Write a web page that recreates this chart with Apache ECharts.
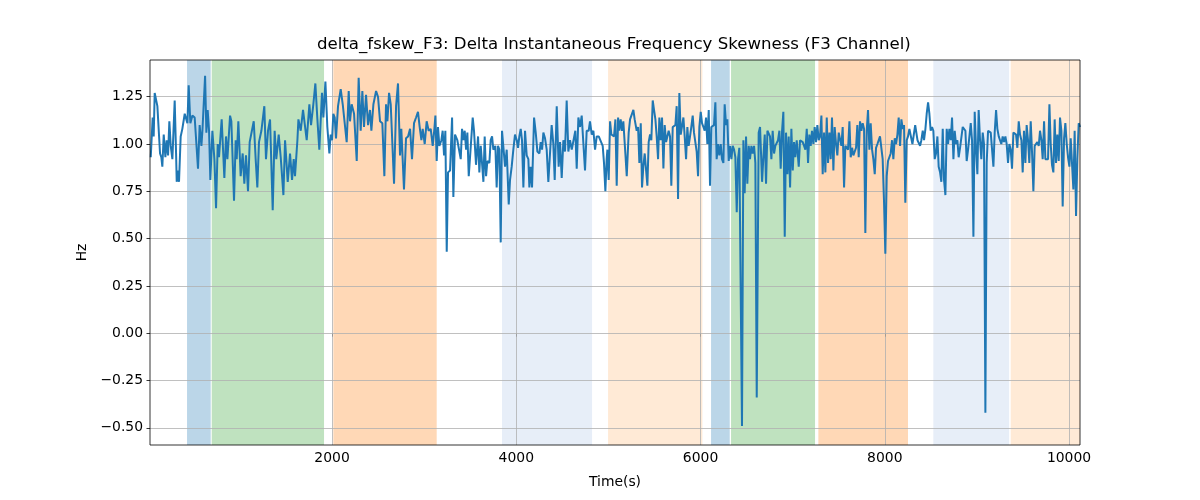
<!DOCTYPE html>
<html>
<head>
<meta charset="utf-8">
<script src="https://cdn.jsdelivr.net/npm/echarts@6/dist/echarts.min.js"></script>
<style>html,body{margin:0;padding:0;background:#fff}#c{width:1200px;height:500px}</style>
</head>
<body>
<div id="c"></div>
<script>
// ---- data ----
const times = [32,53,64,75,89,104,118,133,147,158,173,191,205,220,234,249,267,292,307,314,325,339,357,375,390,401,419,430,444,462,484,509,545,563,582,593,622,636,650,665,679,701,723,741,759,773,802,831,849,864,893,907,936,954,965,983,1008,1030,1048,1066,1088,1106,1124,1150,1171,1189,1207,1233,1265,1283,1305,1327,1356,1377,1395,1421,1443,1472,1490,1519,1544,1566,1584,1598,1624,1635,1660,1685,1725,
1754,1772,1797,1819,1841,1862,1891,1906,1928,1949,1971,1985,2000,2014,2029,2043,2065,2094,2116,2137,2159,2181,2195,2213,2239,2268,2289,2311,2329,2347,2369,2391,2412,2427,2449,2478,2499,2521,2546,2568,2586,2601,2619,2637,2651,2673,2695,2716,2738,2752,2781,2803,2825,2847,2868,2890,2912,2933,2951,2970,2984,3006,3027,3049,3071,3093,3111,3122,3136,3150,3165,3187,3201,3216,3230,3245,3259,3281,3303,3317,3335,3360,
3397,3411,3426,3440,3455,3469,3484,3505,3527,3541,3563,3585,3599,3614,3628,3643,3657,3672,3686,3708,3722,3737,3751,3773,3787,3802,3816,3831,3845,3863,3878,3896,3918,3932,3950,3968,3986,4005,4019,4033,4048,4062,4077,4095,4113,4131,4142,4156,4171,4193,4211,4229,4251,4265,4280,4294,4312,4330,4348,4366,4384,4402,4417,4439,4460,4475,4493,4511,4529,4547,4565,4583,4602,4620,4641,4656,4674,4692,4710,4728,4746,4764,4786,4800,4819,4837,4855,4873,4895,4916,4938,4952,4967,4981,
4989,5003,5018,5032,5047,5061,5076,5090,5105,5119,5133,5148,5162,5184,5199,5220,5235,5249,5271,5285,5307,5322,5336,5351,5365,5379,5394,5408,5423,5437,5452,5466,5481,5495,5510,5524,5539,5553,5568,5582,5597,5611,5626,5640,5654,5669,5683,5698,5712,5727,5741,5756,5770,5785,5799,5814,5828,5843,5857,5871,5886,5900,5915,5929,5944,5958,5973,5987,6002,6016,6031,6045,6060,6074,6089,6103,6117,6132,6146,6161,6175,6190,6204,6219,6233,6248,6262,6277,6291,6306,6320,6335,6349,6364,6378,6393,6407,6421,6436,6450,6465,6479,6494,6508,6523,6537,6552,6566,6581,6595,6610,6631,6646,
6668,6682,6697,6711,6726,6740,6754,6769,6783,6798,6812,6827,6841,6856,6870,6885,6899,6914,6928,6943,6957,6972,6986,7001,7015,7029,7044,7066,7080,7095,7109,7124,7138,7153,7167,7181,7196,7210,7225,7239,7254,7268,7283,7297,7312,7326,7341,7355,7370,7384,7399,7413,7427,7442,7456,7471,7485,7500,7514,7529,7543,7558,7572,7587,7601,7616,7630,7645,7659,7673,7688,7702,7717,7731,7746,7760,7775,7789,7804,7818,7833,7847,7862,7876,7891,7905,7920,7934,7948,7963,7977,7992,8006,8021,8035,8050,8064,8079,8093,8108,8122,8137,8151,8166,8180,8195,8209,8223,8238,8252,8267,
8300,8330,8355,
8383,8397,8412,8426,8441,8455,8470,8484,8498,8513,8527,8542,8556,8571,8585,8600,8614,8629,8643,8658,8672,8687,8701,8716,8730,8745,8759,8773,8788,8802,8817,8831,8846,8860,8875,8889,8904,8918,8933,8947,8962,8976,8991,9005,9019,9034,9048,9063,9077,9092,9106,9121,9135,9150,9164,9179,9193,9208,9222,9237,9251,9265,9280,9294,9309,9323,9338,9352,9367,9381,9396,9410,9425,9439,9454,9468,9483,9497,9511,9526,9540,9555,9569,9584,9598,9613,9627,9642,9656,9671,9685,9700,9714,9729,9743,9758,9772,9787,9801,9815,9830,9844,9859,9873,9888,9902,9917,9931,9946,9960,9975,9989,10004,10018,10032,10047,10061,10076,10090,10105,10119];

const values = [0.93,1.14,1.04,1.27,1.26,1.20,1.19,0.95,0.93,0.88,1.05,0.93,1.02,0.94,1.12,0.99,0.92,1.23,0.95,0.80,0.86,0.80,1.04,1.08,1.07,1.16,1.17,1.11,1.31,1.11,1.15,1.14,0.87,1.10,0.99,1.07,1.36,1.06,1.18,1.07,0.81,1.07,0.92,0.66,1.00,0.93,1.13,0.82,1.04,0.92,1.15,1.12,0.70,1.02,0.92,1.12,0.83,0.95,0.79,0.94,0.75,1.01,1.00,1.12,0.92,0.77,1.01,1.07,1.20,0.92,1.07,1.13,0.65,1.07,0.92,1.05,0.93,0.73,1.02,0.80,0.95,0.81,0.92,0.83,1.02,1.13,1.07,1.18,1.02,
1.21,1.10,1.21,1.32,1.13,0.97,1.27,1.14,1.33,1.09,0.95,1.05,1.02,1.16,1.14,1.03,1.20,1.29,1.21,1.22,1.01,1.28,1.12,1.21,1.16,0.91,1.35,1.07,1.28,1.09,1.26,1.10,1.18,1.07,1.21,1.28,1.25,1.12,1.11,0.83,1.21,1.12,1.27,1.21,1.20,0.79,1.20,1.32,0.94,1.08,0.76,1.03,1.04,1.08,0.92,1.11,1.14,1.17,1.09,1.02,1.08,1.00,1.12,1.07,1.08,0.99,1.08,1.15,0.91,1.09,0.99,1.02,1.07,0.94,1.07,0.43,0.85,0.86,1.14,0.72,1.05,1.02,
0.92,1.08,1.02,1.07,0.97,1.06,0.83,0.83,1.14,1.07,0.89,1.04,0.85,0.99,0.90,0.80,1.04,0.83,0.91,0.90,1.02,1.04,0.97,0.99,0.77,0.99,0.97,0.48,1.07,1.07,0.88,0.97,0.68,0.81,0.88,0.97,1.05,1.02,0.98,1.04,1.08,1.02,0.77,1.07,0.94,0.92,0.77,0.88,0.77,1.14,1.06,0.96,0.95,1.01,0.97,1.06,1.03,0.97,0.80,0.95,1.10,1.00,0.81,1.20,0.88,1.01,0.82,1.02,0.96,1.23,0.96,1.02,0.97,0.97,1.07,0.87,1.14,1.09,1.15,1.15,0.86,1.07,1.07,1.12,1.05,1.07,0.97,1.04,1.04,1.03,0.99,0.90,0.75,0.92,
0.97,0.81,1.12,1.05,1.05,1.04,1.13,0.78,1.14,1.07,1.13,1.07,1.12,0.95,0.83,1.06,1.13,1.12,1.18,1.13,1.07,1.09,0.90,1.11,0.77,0.88,0.95,0.96,0.78,1.01,1.05,1.02,1.23,1.18,1.13,1.04,0.92,1.14,1.02,1.14,0.87,1.10,1.01,1.04,1.07,1.04,0.78,1.09,1.10,1.10,1.20,0.71,1.27,1.05,1.04,1.14,1.04,0.92,1.09,0.99,1.04,1.09,1.15,1.06,1.07,0.96,0.83,1.09,1.17,1.11,1.09,1.07,1.14,1.00,1.18,0.78,1.09,1.08,1.10,1.22,0.92,1.00,0.94,1.00,0.92,0.90,1.21,1.10,1.13,0.91,0.99,0.92,0.99,0.97,0.93,0.64,0.92,0.98,0.99,-0.49,1.02,0.74,1.04,0.79,0.99,0.92,0.99,0.95,0.99,0.90,-0.34,1.06,1.09,
0.80,0.93,1.05,0.79,1.07,1.08,1.04,0.92,1.07,0.95,0.99,0.98,1.02,1.07,0.87,1.07,1.17,0.51,1.06,0.84,1.04,0.77,1.08,0.86,1.01,0.93,1.02,0.88,1.02,1.02,1.01,0.99,0.97,1.08,0.90,1.05,0.99,1.07,1.00,1.09,1.01,1.10,1.02,1.04,1.15,0.84,1.06,0.85,1.14,0.90,1.06,0.92,1.14,0.86,1.09,1.00,0.94,1.06,1.07,0.99,1.09,0.77,0.99,0.99,0.97,1.12,0.93,0.98,0.94,0.93,0.98,1.10,0.93,1.12,1.07,1.11,1.08,0.53,1.07,1.18,0.97,1.11,0.97,0.92,0.84,0.98,1.00,0.99,1.04,1.05,0.92,0.69,0.42,0.83,0.91,0.90,0.95,1.02,0.92,1.03,1.00,1.05,1.14,0.99,1.13,1.08,1.10,0.69,1.02,1.04,1.08,
1.00,1.10,1.02,
0.99,1.02,1.07,1.02,1.08,1.16,1.22,1.16,1.07,1.09,1.07,0.92,0.95,1.04,0.88,0.85,0.80,1.08,0.81,0.73,1.08,1.00,1.08,1.02,1.14,0.92,1.07,1.00,1.02,0.93,0.98,0.99,1.09,1.08,1.07,0.91,0.97,0.98,1.11,1.02,0.51,1.17,0.97,0.84,1.18,1.02,0.92,1.06,1.00,-0.42,0.90,1.07,1.07,1.06,1.07,0.88,1.06,1.18,1.08,1.04,1.02,1.00,1.04,1.01,1.04,1.00,0.90,1.00,0.97,0.87,1.06,1.06,1.05,0.98,1.12,1.05,1.02,0.85,1.07,0.90,1.10,1.02,0.90,1.12,0.96,0.75,0.99,0.99,1.01,0.99,1.07,1.02,0.92,1.12,0.92,0.92,0.92,1.21,1.00,0.89,0.85,1.13,0.90,1.05,0.91,1.14,1.07,0.67,1.03,1.11,1.00,0.93,0.88,1.03,1.02,0.76,1.07,0.62,0.92,1.11,1.09];

const bandStart = [426, 694, 2014, 3845, 4996, 6114, 6331, 7279, 8527, 9367];
const bandEnd   = [683, 1913, 3136, 4822, 6020, 6317, 7243, 8252, 9349, 10119];
const bandKind  = ['blue','green','orange','lightblue','lightorange','blue','green','orange','lightblue','lightorange'];

const xTicks = [2000, 4000, 6000, 8000, 10000];
const yTicks = [-0.5, -0.25, 0, 0.25, 0.5, 0.75, 1.0, 1.25];

const titleText = 'delta_fskew_F3: Delta Instantaneous Frequency Skewness (F3 Channel)';
const xName = 'Time(s)';
const yName = 'Hz';

// ---- styling / layout ----
const bandColor = {
  blue: 'rgba(31,119,180,0.3)',
  green: 'rgba(44,160,44,0.3)',
  orange: 'rgba(255,127,14,0.3)',
  lightblue: 'rgba(174,199,232,0.3)',
  lightorange: 'rgba(255,187,120,0.3)'
};
const FONT = 'DejaVu Sans';
const gridStyle = { color: '#b0b0b0', width: 0.8, type: 'solid' };

const lineData = times.map((t, i) => [t, values[i]]);
const areas = bandStart.map((s, i) => [
  { xAxis: s, itemStyle: { color: bandColor[bandKind[i]] } },
  { xAxis: bandEnd[i] }
]);
const gridLines = yTicks.map(v => ({ yAxis: v })).concat(xTicks.map(v => ({ xAxis: v })));

const fmtY = v => (v < 0 ? '\u2212' : '') + Math.abs(v).toFixed(2);

const chart = echarts.init(document.getElementById('c'), null, { renderer: 'canvas' });
chart.setOption({
  animation: false,
  backgroundColor: '#fff',
  textStyle: { fontFamily: FONT },
  grid: { left: 150, right: 120, top: 60, bottom: 55, show: true, borderColor: '#000', borderWidth: 0.8, backgroundColor: 'transparent', z: 10 },
  graphic: [{
    type: 'text', left: 615 - 298, top: 36, z: 20,
    style: { text: titleText, font: '16.6px "DejaVu Sans"', fill: '#000' }
  }],
  xAxis: {
    type: 'value', min: 24, max: 10119,
    name: xName, nameLocation: 'middle', nameGap: 30,
    nameTextStyle: { fontFamily: FONT, fontSize: 13.9, color: '#000' },
    axisLine: { show: false },
    axisTick: { show: true, inside: false, length: 3.5, customValues: xTicks, lineStyle: { color: '#000', width: 0.8 } },
    axisLabel: { customValues: xTicks, margin: 6, fontFamily: FONT, fontSize: 13.9, color: '#000', formatter: v => String(v) },
    splitLine: { show: false }
  },
  yAxis: {
    type: 'value', min: -0.591, max: 1.444,
    name: yName, nameLocation: 'middle', nameGap: 54, nameRotate: 90,
    nameTextStyle: { fontFamily: FONT, fontSize: 13.9, color: '#000' },
    axisLine: { show: false },
    axisTick: { show: true, inside: false, length: 3.5, customValues: yTicks, lineStyle: { color: '#000', width: 0.8 } },
    axisLabel: { customValues: yTicks, margin: 7, fontFamily: FONT, fontSize: 13.9, color: '#000', formatter: fmtY },
    splitLine: { show: false }
  },
  series: [
    {
      type: 'line', data: [], z: 1, silent: true,
      markArea: { silent: true, data: areas },
      markLine: { silent: true, symbol: 'none', label: { show: false }, lineStyle: gridStyle, emphasis: { disabled: true }, data: gridLines }
    },
    {
      type: 'line', data: lineData, z: 5, showSymbol: false, symbol: 'none',
      lineStyle: { color: '#1f77b4', width: 2 }, itemStyle: { color: '#1f77b4' }
    }
  ]
});
</script>
</body>
</html>
